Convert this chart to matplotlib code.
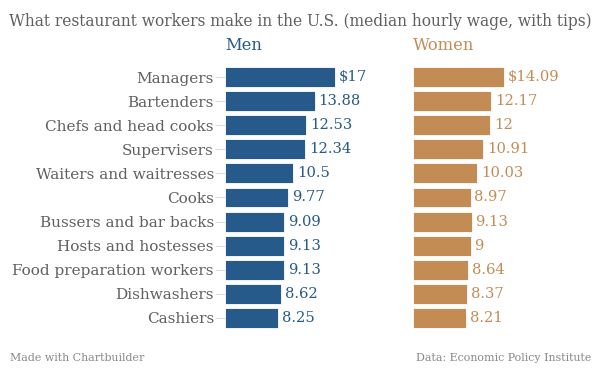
import matplotlib
matplotlib.use('Agg')
import matplotlib.pyplot as plt
import numpy as np

# data
jobs = ["Managers", "Bartenders", "Chefs and head cooks", "Supervisers",
        "Waiters and waitresses", "Cooks", "Bussers and bar backs",
        "Hosts and hostesses", "Food preparation workers", "Dishwashers",
        "Cashiers"]
men = [17, 13.88, 12.53, 12.34, 10.5, 9.77, 9.09, 9.13, 9.13, 8.62, 8.25]
women = [14.09, 12.17, 12, 10.91, 10.03, 8.97, 9.13, 9, 8.64, 8.37, 8.21]
men_labels = ["$17", "13.88", "12.53", "12.34", "10.5", "9.77", "9.09",
              "9.13", "9.13", "8.62", "8.25"]
women_labels = ["$14.09", "12.17", "12", "10.91", "10.03", "8.97", "9.13",
                "9", "8.64", "8.37", "8.21"]

blue = "#255a8a"
tan = "#c48c55"
grey = "#606060"
font = "DejaVu Serif"

W, H = 600, 369
fig = plt.figure(figsize=(6, 3.69), dpi=100)

# pixel layout
top, bottom = 65, 330
pxu = 6.47  # pixels per dollar
ax_m = fig.add_axes([225 / W, 1 - bottom / H, 175 / W, (bottom - top) / H])
ax_w = fig.add_axes([412.5 / W, 1 - bottom / H, 187.5 / W, (bottom - top) / H])

y = np.arange(len(jobs))
for ax, vals, labs, col, xmax in [(ax_m, men, men_labels, blue, 175 / pxu),
                                  (ax_w, women, women_labels, tan, 187.5 / pxu)]:
    ax.barh(y, vals, height=0.83, color=col, edgecolor="#ffffff", linewidth=0.6)
    ax.set_xlim(0, xmax)
    ax.set_ylim(len(jobs) - 0.5, -0.5)
    for s in ax.spines.values():
        s.set_visible(False)
    ax.set_xticks([])
    for i, (v, t) in enumerate(zip(vals, labs)):
        ax.text(v + 0.6, i, t, ha="left", va="center", color=col,
                fontsize=10.6, family=font)

ax_m.set_yticks(y)
ax_m.set_yticklabels(jobs, family=font, fontsize=11, color=grey)
ax_m.tick_params(axis="y", length=7, color="#dddddd", pad=1)
ax_w.set_yticks([])

fig.text(9 / W, 1 - 22 / H, "What restaurant workers make in the U.S. (median hourly wage, with tips)",
         ha="left", va="center", fontsize=11.2, color=grey, family=font)
fig.text(225 / W, 1 - 46 / H, "Men", ha="left", va="center", fontsize=11.8,
         color=blue, family=font)
fig.text(413 / W, 1 - 46 / H, "Women", ha="left", va="center", fontsize=11.8,
         color=tan, family=font)
fig.text(10 / W, 1 - 358 / H, "Made with Chartbuilder", ha="left", va="center",
         fontsize=7.9, color="#888888", family=font)
fig.text(591 / W, 1 - 358 / H, "Data: Economic Policy Institute", ha="right",
         va="center", fontsize=7.9, color="#888888", family=font)

fig.savefig("out.png", dpi=100)
